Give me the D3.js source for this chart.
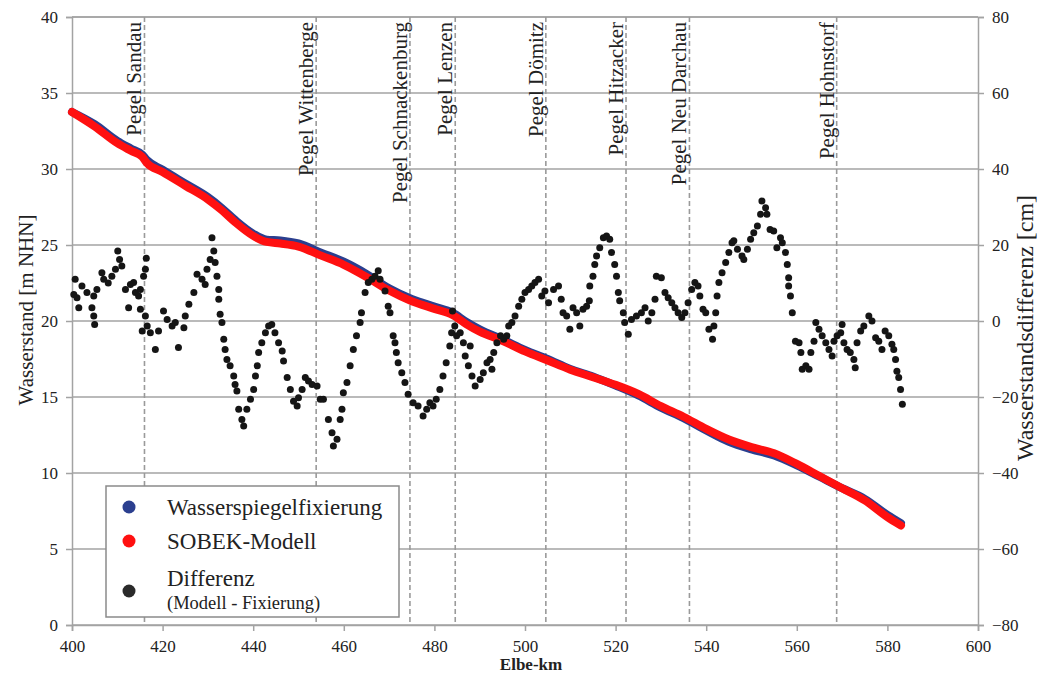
<!DOCTYPE html>
<html><head><meta charset="utf-8">
<script src="https://cdn.jsdelivr.net/npm/d3@7/dist/d3.min.js"></script>
<style>body{margin:0;background:#fff}svg{display:block}text{font-family:"Liberation Serif","Times New Roman",serif;fill:#222}</style>
</head><body><svg id="c" width="1041" height="675"></svg>
<script>
// ---- data ----
const xTicks = [400,420,440,460,480,500,520,540,560,580,600];
const yLeftTicks = [0,5,10,15,20,25,30,35,40];
const yRightTicks = [-80,-60,-40,-20,0,20,40,60,80];
const gaugeNames = ["Pegel Sandau","Pegel Wittenberge","Pegel Schnackenburg","Pegel Lenzen","Pegel Dömitz","Pegel Hitzacker","Pegel Neu Darchau","Pegel Hohnstorf"];
const gaugeKm = [416.0,453.9,474.6,484.6,504.6,522.3,536.3,568.8];
const levelKm = [400,405,410,413,415.5,416.5,420,425,430,433,436,440,443,446,450,455,460,465,470,475,480,484,487,490,495,500,505,510,515,520,525,530,535,540,545,550,555,560,565,570,575,580,583];
const sobek   = [33.75,32.8,31.7,31.2,30.8,30.4,29.8,28.9,28.0,27.3,26.5,25.6,25.2,25.1,24.9,24.3,23.7,22.9,22.0,21.3,20.8,20.4,19.8,19.3,18.7,18.0,17.4,16.8,16.3,15.8,15.2,14.4,13.7,12.9,12.2,11.7,11.3,10.6,9.8,9.0,8.2,7.1,6.55];
const fixierung = [33.75,32.95,31.85,31.35,30.95,30.6,29.95,29.05,28.15,27.45,26.65,25.75,25.35,25.3,25.1,24.5,23.9,23.1,22.15,21.45,20.95,20.55,19.95,19.45,18.8,18.1,17.5,16.85,16.35,15.75,15.1,14.3,13.6,12.8,12.05,11.55,11.15,10.5,9.75,9.0,8.3,7.25,6.7];
const diffKm = [400.4,400.7,401.1,401.5,402.2,403.3,404.4,404.8,405,404.8,405.5,406.6,407,408,408.8,409.6,410.1,410.5,411,411.8,412.5,412.9,413.6,414,414.7,415.1,415.8,416.4,416.2,415.1,416.2,415.5,416.6,417.3,418.4,419.1,420.2,421,422.1,422.8,423.5,424.7,425,425.8,426.9,427.6,428.7,429.4,429.8,430.5,430.9,431.3,431.6,432,432.4,432.4,432.7,433.1,433.5,433.8,434.2,434.9,435.7,436,436.4,436.8,437.5,437.9,438.6,439.4,440.1,440.5,440.9,441.2,441.9,442.7,443.4,444.1,444.8,445.6,446.4,446.7,447.5,448.2,448.9,449.7,450,450.8,451.5,452.2,453,454.1,454.8,
455.5,456.6,457.4,457.7,458.5,459.2,459.6,459.9,460.7,461.4,462.1,462.8,463.6,463.9,464.7,465.4,466.2,466.9,467.6,468,469.1,469.8,470.2,470.9,471.3,471.6,472,472.8,473.5,474.2,475.3,476.4,477.5,478.3,479,479.7,480.4,481.2,481.9,482.6,483.4,483.8,484,484.5,484.9,485.7,486.4,486.8,487.5,487.9,488.3,489,490.1,490.8,491.6,492.3,492.7,493.1,493.8,494.6,495.3,496,496.4,497.1,497.8,498.6,499.3,500,500.8,501.5,502.2,503,503.7,504.4,505.2,506.3,507.4,
508,508.4,509.2,509.9,510.6,511.4,512.1,512.8,513.6,514.2,514.3,515,515.4,515.8,516.5,517.3,518,518.7,519.1,519.8,520.2,520.6,520.9,521.7,522,522.8,523.5,524.6,525.7,526.5,527.2,528,528.7,529,530.1,530.9,531.6,532.4,533.1,533.8,534.6,535.3,536,536.8,537.5,538.2,538.6,539.3,539.9,540.6,541.4,541.7,542.1,542.4,542.8,543.5,544.3,545,545.7,546.1,546.9,547.9,548.3,549.1,549.8,550.5,551.3,552,552.3,553.1,553.4,554.1,554.9,555.6,556.4,556.8,557.5,557.9,558.2,558.2,558.6,559,559.7,560.5,560.9,561.2,562,562.7,563.1,563.8,564.2,564.9,565.6,566.4,567.1,567.8,568.2,568.9,569.7,570,570.4,571.1,571.8,572.6,572.9,573.3,574.1,574.8,575.9,576.6,577.4,578.1,578.8,579.5,580.3,581,581.4,581.8,582.1,582.5,582.9,583.3];
const diffCm = [7.0,11,6.1,3.5,9.2,7.5,3.5,1.3,-0.9,6.6,8.3,12.7,11,10,11.8,13.6,18.4,16.2,14.5,8.3,3.5,9.6,10.1,7.5,6.6,8.3,11.8,16.5,13.6,3.1,1.3,-2.6,-1.3,-3.1,-7.5,-2.6,2.6,0.4,-1.3,-0.4,-7,-1.8,1.3,4.4,7.5,12.3,11,9.6,13.6,16.2,21.9,18.4,15.4,11.8,8.3,5.7,1.8,-0.4,-4.8,-7.5,-10.1,-11.8,-14.5,-16.7,-18.4,-23.2,-25.9,-27.6,-23.2,-20.6,-18,-14.5,-11.8,-8.3,-5.7,-3.1,-1.3,-0.9,-3.1,-5.7,-7.9,-10.5,-14.9,-18,-21.1,-22.4,-20.2,-18,-14.9,-15.8,-16.7,-17.1,-20.6,
-20.6,-25.9,-29.4,-32.9,-31.1,-25.9,-23.2,-18.9,-16.2,-11.8,-7.5,-3.9,-0.4,2.2,7.5,10.1,11,11.8,13.2,11,7.9,3.9,2.2,-3.9,-5.7,-8.3,-11,-13.6,-16.2,-19.3,-21.5,-22.4,-25,-23.2,-21.5,-22.4,-20.6,-18,-14.5,-11,-6.6,-3.1,2.6,-1.3,-3.9,-3.1,-5.7,-9.2,-11.8,-6.6,-14.5,-17.1,-15.4,-13.6,-11,-10.1,-12.7,-8.3,-5.7,-3.9,-4.8,-3.9,-1.3,-0.4,1.3,3.9,5.7,7.5,8.3,9.2,10.1,11,6.6,7.9,4.8,8.3,9.2,
5.7,2.2,1.3,-2.2,3.5,2.2,-1.3,3.1,3.9,5.3,9.2,11.8,14.9,17.1,19.3,21.9,22.4,21.5,18,14.9,11.8,7.5,5.3,2.2,-0.4,-3.5,0.4,1.3,2.2,3.5,0,2.2,5.7,11.8,11.4,7.5,6.1,4.8,3.5,2.2,0.9,2.2,4.8,8.3,10.1,9.2,6.6,3.1,2.2,-2.2,-4.8,-1.3,2.2,6.6,10.1,12.7,15.4,18,20.6,21.1,18.9,17.1,16.2,18.9,21.5,23.2,25,28.1,31.6,29.8,28.1,24.1,23.7,19.3,21.9,20.6,18,14.9,11.4,9.2,6.6,2.2,-5.3,-5.7,-8.3,-12.7,-11.8,-12.7,-8.3,-5.3,-0.4,-2.2,-3.9,-5.7,-7.5,-9.2,-5.3,-3.9,-3.1,-0.9,-5.7,-7.5,-8.3,-10.1,-12.3,-5.7,-2.6,-1.3,1.3,0,-4.4,-5.3,-7.5,-2.6,-3.9,-6.1,-7.5,-10.1,-13.2,-14.9,-18,-21.9];
const legendLabels = ["Wasserspiegelfixierung","SOBEK-Modell","Differenz"];
const legendSub = "(Modell - Fixierung)";
const colors = {fix:"#2b3f8f", sobek:"#ff1010", diff:"#151515"};

// ---- chart ----
const FONT = "'Liberation Serif','Times New Roman',serif";
const svg = d3.select("#c");
const L = 72, R = 978, T = 17, B = 625;
const x = d3.scaleLinear().domain([400,600]).range([L,R]);
const yL = d3.scaleLinear().domain([0,40]).range([B,T]);
const yR = d3.scaleLinear().domain([-80,80]).range([B,T]);
const grid = "#a3a3a3";

svg.append("g").selectAll("line").data(yLeftTicks).join("line")
  .attr("x1",L).attr("x2",R).attr("y1",d=>yL(d)).attr("y2",d=>yL(d))
  .attr("stroke",grid).attr("stroke-width",1.5);

const axB = svg.append("g").attr("transform",`translate(0,${B})`)
  .call(d3.axisBottom(x).tickValues(xTicks).tickSize(6).tickPadding(9).tickFormat(d3.format("d")));
const axL = svg.append("g").attr("transform",`translate(${L},0)`)
  .call(d3.axisLeft(yL).tickValues(yLeftTicks).tickSize(6).tickPadding(8).tickFormat(d3.format("d")));
const axR = svg.append("g").attr("transform",`translate(${R},0)`)
  .call(d3.axisRight(yR).tickValues(yRightTicks).tickSize(6).tickPadding(8).tickFormat(d3.format("d")));
[axB,axL,axR].forEach(a=>{
  a.attr("font-family",FONT).attr("font-size",17);
  a.selectAll(".domain").attr("stroke",grid).attr("stroke-width",1.5);
  a.selectAll(".tick line").attr("stroke",grid).attr("stroke-width",1.5);
  a.selectAll("text").attr("font-size",17).attr("fill","#222").attr("font-family",FONT).style("font-family",FONT);
});
svg.append("line").attr("x1",L).attr("x2",R).attr("y1",T).attr("y2",T).attr("stroke",grid).attr("stroke-width",1.5);

const g = svg.append("g");
g.selectAll("line").data(gaugeKm).join("line")
  .attr("x1",d=>x(d)).attr("x2",d=>x(d)).attr("y1",T).attr("y2",B)
  .attr("stroke","#9a9a9a").attr("stroke-width",1.6).attr("stroke-dasharray","5,3");
g.selectAll("text").data(gaugeNames).join("text")
  .attr("transform",(d,i)=>`translate(${x(gaugeKm[i])-3},22) rotate(-90)`)
  .attr("text-anchor","end").attr("font-size",21).attr("fill","#333").text(d=>d);

const lineGen = arr => d3.line().x((d,i)=>x(levelKm[i])).y(d=>yL(d)).curve(d3.curveMonotoneX)(arr);
svg.append("path").attr("d",lineGen(fixierung)).attr("fill","none")
  .attr("stroke",colors.fix).attr("stroke-width",8).attr("stroke-linecap","round");
svg.append("path").attr("d",lineGen(sobek)).attr("fill","none")
  .attr("stroke",colors.sobek).attr("stroke-width",8).attr("stroke-linecap","round");

svg.append("g").selectAll("circle").data(diffCm).join("circle")
  .attr("cx",(d,i)=>x(diffKm[i])).attr("cy",d=>yR(d)).attr("r",3.5).attr("fill",colors.diff);

const lg = svg.append("g");
lg.append("rect").attr("x",106).attr("y",486).attr("width",293).attr("height",131)
  .attr("fill","#fff").attr("stroke","#8a8a8a").attr("stroke-width",1.5);
const lcol = [colors.fix,colors.sobek,"#2a2a2a"];
const ly = [507,541,591];
lg.selectAll("circle").data(lcol).join("circle")
  .attr("cx",129).attr("cy",(d,i)=>ly[i]).attr("r",6.5).attr("fill",d=>d);
lg.selectAll("text.l").data(legendLabels).join("text").attr("class","l")
  .attr("x",167).attr("y",(d,i)=>[515,549,586][i]).attr("font-size",23).attr("fill","#333").text(d=>d);
lg.append("text").attr("x",167).attr("y",609).attr("font-size",18.5).attr("fill","#333").text(legendSub);

svg.append("text").attr("transform","translate(33,310) rotate(-90)").attr("text-anchor","middle")
  .attr("font-size",21).attr("fill","#333").text("Wasserstand [m NHN]");
svg.append("text").attr("transform","translate(1033,328) rotate(-90)").attr("text-anchor","middle")
  .attr("font-size",24).attr("fill","#333").text("Wasserstandsdifferenz [cm]");
svg.append("text").attr("x",531).attr("y",670).attr("text-anchor","middle")
  .attr("font-size",17).attr("font-weight","bold").attr("fill","#333").text("Elbe-km");
</script></body></html>
